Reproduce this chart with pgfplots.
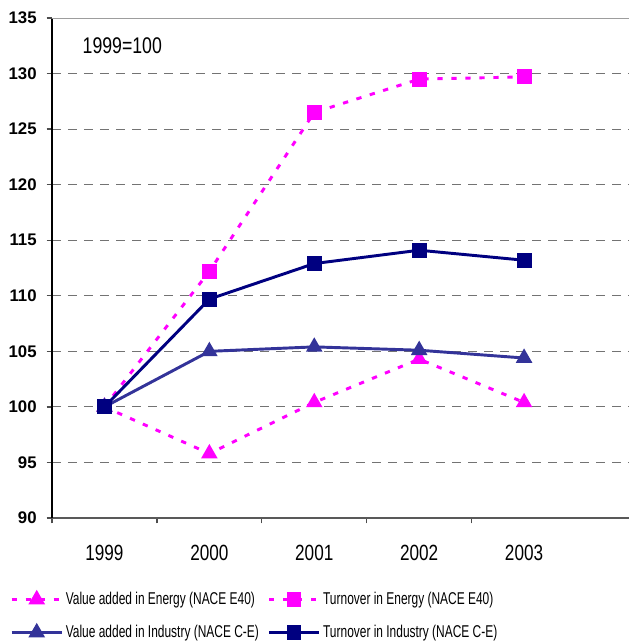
\documentclass[border=0pt]{standalone}
\usepackage{fontspec}
\setmainfont{Liberation Sans}
\newfontfamily\narrowfont[FakeStretch=0.78]{Liberation Sans}
\newfontfamily\legendfont[FakeStretch=0.7]{Liberation Sans}
\newfontfamily\tickfont{Liberation Sans Bold}
\usepackage{pgfplots}
\usepackage{pgfplotstable}
\pgfplotsset{compat=1.18}

\definecolor{energy}{RGB}{255,0,255}
\definecolor{vaind}{RGB}{51,51,153}
\definecolor{toind}{RGB}{0,0,128}
\definecolor{gridgray}{RGB}{115,115,115}

% index values, 1999 = 100 (x: 0 = 1999 ... 4 = 2003)
\pgfplotstableread{
x  vaenergy  toenergy  vaind  toind
0  100.0     100.0     100.0  100.0
1  95.8      112.2     105.0  109.7
2  100.4     126.5     105.4  112.9
3  104.3     129.5     105.1  114.1
4  100.4     129.7     104.4  113.2
}\indexdata

\begin{document}
\begin{tikzpicture}
\begin{axis}[
  scale only axis,
  width=432.75pt, height=375pt,
  xmin=-0.5, xmax=5, ymin=90, ymax=135,
  axis x line=bottom, axis y line=left,
  x axis line style={-, black!65, line width=1.4pt},
  y axis line style={-, black, line width=1.2pt},
  tick align=outside,
  major tick length=4pt,
  tick style={black!70, line width=1pt},
  xtick={-0.5,0.5,1.5,2.5,3.5},
  xticklabels={},
  extra x ticks={0,1,2,3,4},
  extra x tick labels={1999,2000,2001,2002,2003},
  extra x tick style={major tick length=0pt,
    xticklabel style={font=\narrowfont\fontsize{16.5}{18}\selectfont, yshift=-17pt}},
  ytick={90,95,...,130},
  extra y ticks={135},
  extra y tick style={major grid style={solid, gridgray!70, line width=0.6pt}},
  ymajorgrids,
  major grid style={gridgray, line width=0.75pt, dash pattern=on 7pt off 5pt},
  yticklabel style={font=\tickfont\fontsize{12.6}{14}\selectfont, xshift=-4pt},
  /pgf/number format/assume math mode=true,
  clip=false,
  every axis plot/.append style={line width=2.2pt},
  legend columns=2,
  legend cell align=left,
  legend style={at={(0,0)}, anchor=north west, xshift=-31.5pt, yshift=-53.5pt,
    draw=none, fill=none, inner sep=0pt,
    font=\legendfont\fontsize{12.8}{14}\selectfont,
    row sep=10pt,
    /tikz/every odd column/.append style={column sep=0pt},
    /tikz/every even column/.append style={column sep=4.5pt}},
  legend image code/.code={\draw[mark repeat=2,mark phase=2]
    plot coordinates {(0pt,0pt) (18.75pt,0pt) (37.5pt,0pt)};},
]
\addplot[energy, dash pattern=on 4pt off 6.5pt, mark=triangle*, mark size=5pt,
  mark options={solid}] table[x=x, y=vaenergy] {\indexdata};
\addlegendentry{Value added in Energy (NACE E40)}
\addplot[energy, dash pattern=on 4pt off 6.5pt, mark=square*, mark size=4.5pt,
  mark options={solid}] table[x=x, y=toenergy] {\indexdata};
\addlegendentry{Turnover in Energy (NACE E40)}
\addplot[vaind, mark=triangle*, mark size=5pt] table[x=x, y=vaind] {\indexdata};
\addlegendentry{Value added in Industry (NACE C-E)}
\addplot[toind, mark=square*, mark size=4.5pt] table[x=x, y=toind] {\indexdata};
\addlegendentry{Turnover in Industry (NACE C-E)}

\node[font=\narrowfont\fontsize{17}{20}\selectfont] at (axis cs:0.17,132.5) {1999=100};
\end{axis}
\pgfresetboundingbox
\path[use as bounding box] (current axis.south west) ++(-39pt,-93.75pt) rectangle ++(471.75pt,482.25pt);
\end{tikzpicture}
\end{document}
